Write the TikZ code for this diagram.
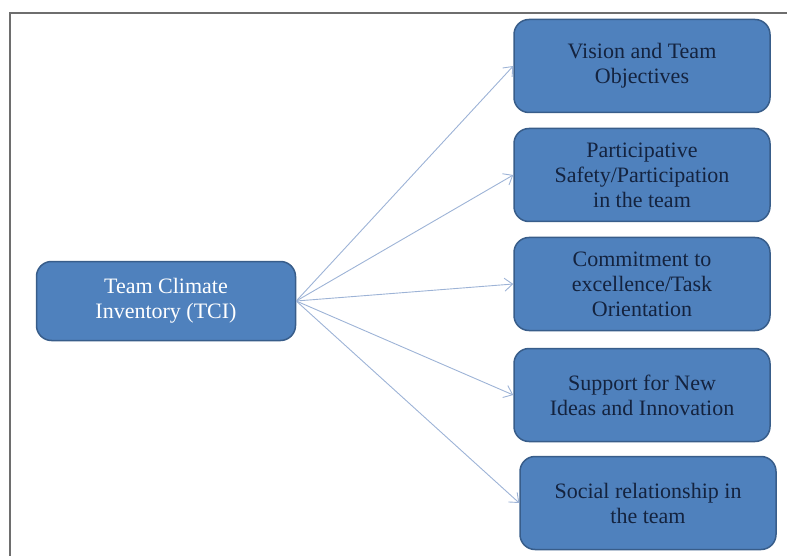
\documentclass[tikz,border=0pt]{standalone}
\usepackage{fontspec}
\setmainfont{Liberation Serif}
\usetikzlibrary{arrows,arrows.meta,positioning,shapes}
\definecolor{boxblue}{HTML}{4F81BD}
\definecolor{boxedge}{HTML}{385D8A}
\definecolor{textnavy}{HTML}{14233F}
\definecolor{arrowblue}{HTML}{9DB3D6}
\definecolor{framegray}{HTML}{6E6E6E}

\begin{document}
\begin{tikzpicture}[->,>={Straight Barb[length=8pt,width=13pt]},auto,thin,x=1pt,y=1pt]
\tikzstyle{every node}=[font=\fontsize{22}{25}\selectfont]
\tikzstyle{factor}=[rectangle,rounded corners=15pt,draw=boxedge,line width=1.5pt,fill=boxblue,text=textnavy,minimum width=256pt,minimum height=93pt,align=center]
\tikzstyle{root}=[factor,minimum width=259pt,minimum height=79pt,text=white]

\useasboundingbox (0,0) rectangle (787,-556);
%\draw[-,framegray,line width=2pt] (787,-556) -- (787,-13);
\draw[-,framegray,line width=2pt] (787,-13) -- (10,-13) -- (10,-557);

\node[root]     (T) at (166,-301) {Team Climate\\Inventory (TCI)};
\node[factor]   (A) at (642,-66) {Vision and Team\\Objectives};
\node[factor]   (B) [below of=A,node distance=109pt] {Participative\\Safety/Participation\\in the team};
\node[factor]   (C) [below of=B,node distance=109pt] {Commitment to\\excellence/Task\\Orientation};
\node[factor]   (D) [below of=C,node distance=111pt] {Support for New\\Ideas and Innovation};
\node[factor]   (E) [below of=D,node distance=108pt,xshift=6pt] {Social relationship in\\the team};

\path[arrowblue,line width=0.9pt]
(T.east) edge (A.west)
(T.east) edge (B.west)
(T.east) edge (C.west)
(T.east) edge (D.west)
(T.east) edge (E.west)
;
\end{tikzpicture}
\end{document}
